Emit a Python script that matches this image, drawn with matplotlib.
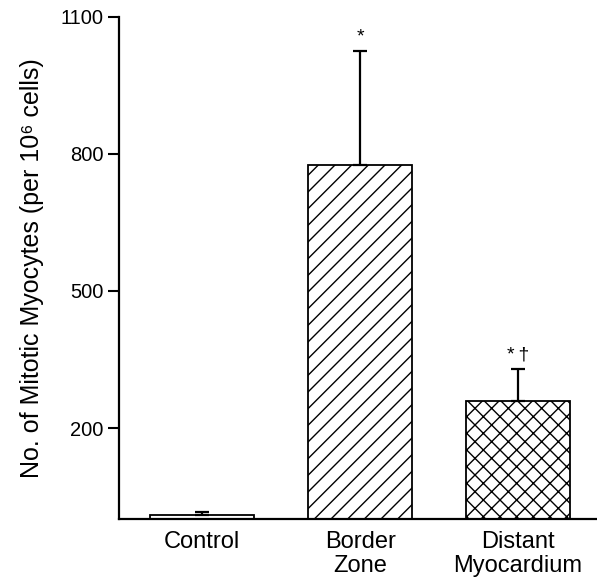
import matplotlib
matplotlib.use('Agg')
import matplotlib.pyplot as plt
import numpy as np

plt.rcParams['font.family'] = ['Liberation Sans', 'DejaVu Sans']
plt.rcParams['hatch.linewidth'] = 1.0

groups = ['Control', 'Border\nZone', 'Distant\nMyocardium']
means = [10, 775, 260]
errors = [7, 250, 69]
hatches = ['', '//', 'xx']
marks = ['', '*', '*\u2009\u2020']

fig = plt.figure(figsize=(5.97, 5.81), dpi=100)
ax = fig.add_axes([0.1993, 0.1059, 0.8007, 0.8654])

x = np.arange(len(groups))
for i in range(len(groups)):
    ax.bar(x[i], means[i], width=0.658, color='white', edgecolor='black',
           linewidth=1.3, hatch=hatches[i], zorder=2)
    ax.errorbar(x[i], means[i], yerr=[[0], [errors[i]]], fmt='none',
                ecolor='black', elinewidth=1.6, capsize=5, capthick=1.6, zorder=3)
    if marks[i]:
        ax.annotate(marks[i], (x[i], means[i] + errors[i]), xytext=(0, 4),
                    textcoords='offset points', ha='center', va='bottom',
                    fontsize=14)

ax.set_xlim(-0.527, 2.5)
ax.set_ylim(0, 1100)
ax.set_yticks([200, 500, 800, 1100])
ax.set_xticks(x)
ax.set_xticklabels(groups, fontsize=17, va='top', linespacing=1.12)
ax.tick_params(axis='x', length=0, pad=8)
ax.tick_params(axis='y', length=8, width=1.5, labelsize=14.5, pad=3)
ax.set_ylabel('No. of Mitotic Myocytes (per 10\u2076 cells)', fontsize=18, labelpad=12)

for s in ['top', 'right']:
    ax.spines[s].set_visible(False)
for s in ['left', 'bottom']:
    ax.spines[s].set_linewidth(1.6)

fig.savefig('out.png', dpi=100)
